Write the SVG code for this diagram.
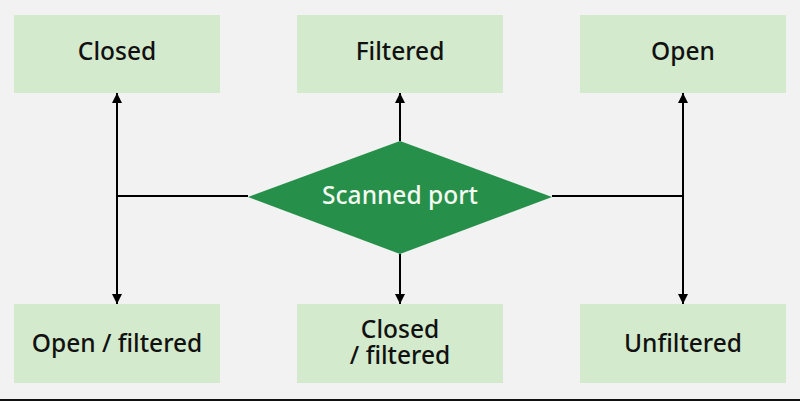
<svg xmlns="http://www.w3.org/2000/svg" width="800" height="401" viewBox="0 0 800 401">
<style>
.box{fill:#d3eacc}
.t{font-family:"Noto Sans","Open Sans",sans-serif;font-size:24.5px;font-weight:500;fill:#111;text-anchor:middle}
.w{fill:#f4f9f2}
.c{stroke:#000;stroke-width:2;fill:none}
</style>
<defs>
<marker id="ah" viewBox="0 0 10 10" refX="10" refY="5" markerWidth="10" markerHeight="10" markerUnits="userSpaceOnUse" orient="auto">
<path d="M0,0 L10,5 L0,10 z" fill="#000"/>
</marker>
</defs>
<rect width="800" height="401" fill="#f2f2f2"/>
<rect x="0" y="399" width="800" height="2" fill="#111"/>
<g id="connectors">
<path class="c" d="M248,196 H117 V93" marker-end="url(#ah)"/>
<path class="c" d="M117,196 V304" marker-end="url(#ah)"/>
<path class="c" d="M400,141 V93" marker-end="url(#ah)"/>
<path class="c" d="M400,254 V304" marker-end="url(#ah)"/>
<path class="c" d="M552,196 H683 V93" marker-end="url(#ah)"/>
<path class="c" d="M683,196 V304" marker-end="url(#ah)"/>
</g>
<g id="closed"><rect class="box" x="14" y="15" width="206" height="78"/><text class="t" x="117" y="60">Closed</text></g>
<g id="filtered"><rect class="box" x="297" y="15" width="206" height="78"/><text class="t" x="400" y="60">Filtered</text></g>
<g id="open"><rect class="box" x="580" y="15" width="206" height="78"/><text class="t" x="683" y="60">Open</text></g>
<g id="scanned"><polygon points="248,197 400,141 552,197 400,254" fill="#26904a"/><text class="t w" x="400" y="204">Scanned port</text></g>
<g id="openfiltered"><rect class="box" x="14" y="304" width="206" height="79"/><text class="t" x="117" y="352">Open / filtered</text></g>
<g id="closedfiltered"><rect class="box" x="297" y="304" width="206" height="79"/><text class="t" x="400" y="338">Closed</text><text class="t" x="400" y="364">/ filtered</text></g>
<g id="unfiltered"><rect class="box" x="580" y="304" width="206" height="79"/><text class="t" x="683" y="352">Unfiltered</text></g>
</svg>
